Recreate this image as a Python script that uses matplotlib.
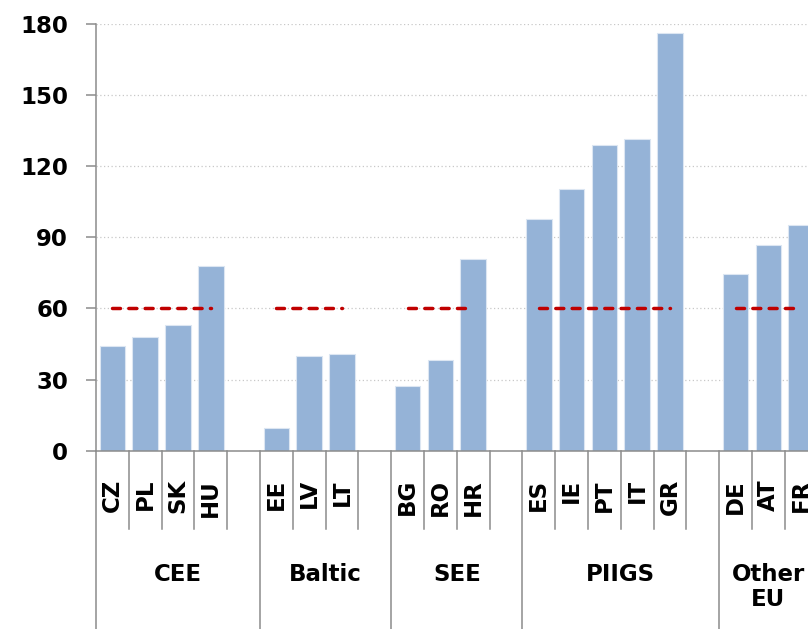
import matplotlib
matplotlib.use('Agg')
import matplotlib.pyplot as plt
import matplotlib.transforms as mtransforms

# country groups, their members and values
groups = ['CEE', 'Baltic', 'SEE', 'PIIGS', 'Other\nEU']
countries = [['CZ', 'PL', 'SK', 'HU'],
             ['EE', 'LV', 'LT'],
             ['BG', 'RO', 'HR'],
             ['ES', 'IE', 'PT', 'IT', 'GR'],
             ['DE', 'AT', 'FR']]
values = [[44.2, 48.0, 53.2, 77.8],
          [9.8, 40.0, 40.8],
          [27.3, 38.3, 80.7],
          [97.8, 110.5, 129.0, 131.5, 176.0],
          [74.3, 86.9, 95.2]]
threshold = 60
yticks = [0, 30, 60, 90, 120, 150, 180]

bar_color = '#95b3d7'
axis_gray = '#8c8c8c'
red = '#c00000'

W, H = 808, 629
slot = 32.8
x0_px, y0_px, ytop_px = 96, 450.8, 23.6

fig = plt.figure(figsize=(W / 100, H / 100), dpi=100)
plt.rcParams['font.family'] = ['DejaVu Sans']

n_slots = sum(len(c) + 1 for c in countries) - 1
ax = fig.add_axes([x0_px / W, (H - y0_px) / H, n_slots * slot / W, (y0_px - ytop_px) / H])
ax.set_xlim(0, n_slots)
ax.set_ylim(0, 180)


def ay(y_px):
    # pixel row -> axes fraction
    return (y0_px - y_px) / (y0_px - ytop_px)


trans = mtransforms.blended_transform_factory(ax.transData, ax.transAxes)

pos = 0
bounds = [0]
inner = []
for g, names, vals in zip(groups, countries, values):
    xs = [pos + i + 0.5 for i in range(len(names))]
    ax.bar(xs, vals, width=0.78, color=bar_color, edgecolor='#dce6f2', linewidth=0.8, zorder=2)
    ax.plot([xs[0], xs[-1]], [threshold, threshold], color=red, lw=2.5,
            linestyle=(0, (2.3, 2.4)), dash_capstyle='round', zorder=3)
    for x, name in zip(xs, names):
        ax.text(x, ay(479), name, transform=trans, rotation=90, ha='center', va='top',
                fontsize=16.5, fontweight='bold')
    for i in range(1, len(names) + 1):
        inner.append(pos + i)
    width = len(names) + (1 if g != groups[-1] else 0)
    ax.text(pos + width / 2, ay(563), g, transform=trans, ha='center', va='top',
            fontsize=16.5, fontweight='bold', linespacing=1.1)
    pos += width
    bounds.append(pos)

# separators under the axis
for x in inner:
    if x in bounds:
        continue
    ax.plot([x, x], [0, ay(529)], transform=trans, color=axis_gray, lw=1.1, clip_on=False)
for x in bounds:
    ax.plot([x, x], [0, ay(H + 10)], transform=trans, color=axis_gray, lw=1.1, clip_on=False)

ax.set_yticks(yticks)
ax.set_yticklabels([str(v) for v in yticks], fontsize=16.5, fontweight='bold')
ax.set_xticks([])
ax.tick_params(axis='y', direction='out', length=7, width=1.1, color=axis_gray, pad=13)
for v in yticks[1:]:
    ax.axhline(v, color='#c8c8c8', lw=0.9, linestyle=(0, (1, 2)), zorder=1)

for s in ['top', 'right']:
    ax.spines[s].set_visible(False)
for s in ['left', 'bottom']:
    ax.spines[s].set_color(axis_gray)
    ax.spines[s].set_linewidth(1.1)
ax.spines['bottom'].set_zorder(4)

fig.savefig('out.png', dpi=100)
